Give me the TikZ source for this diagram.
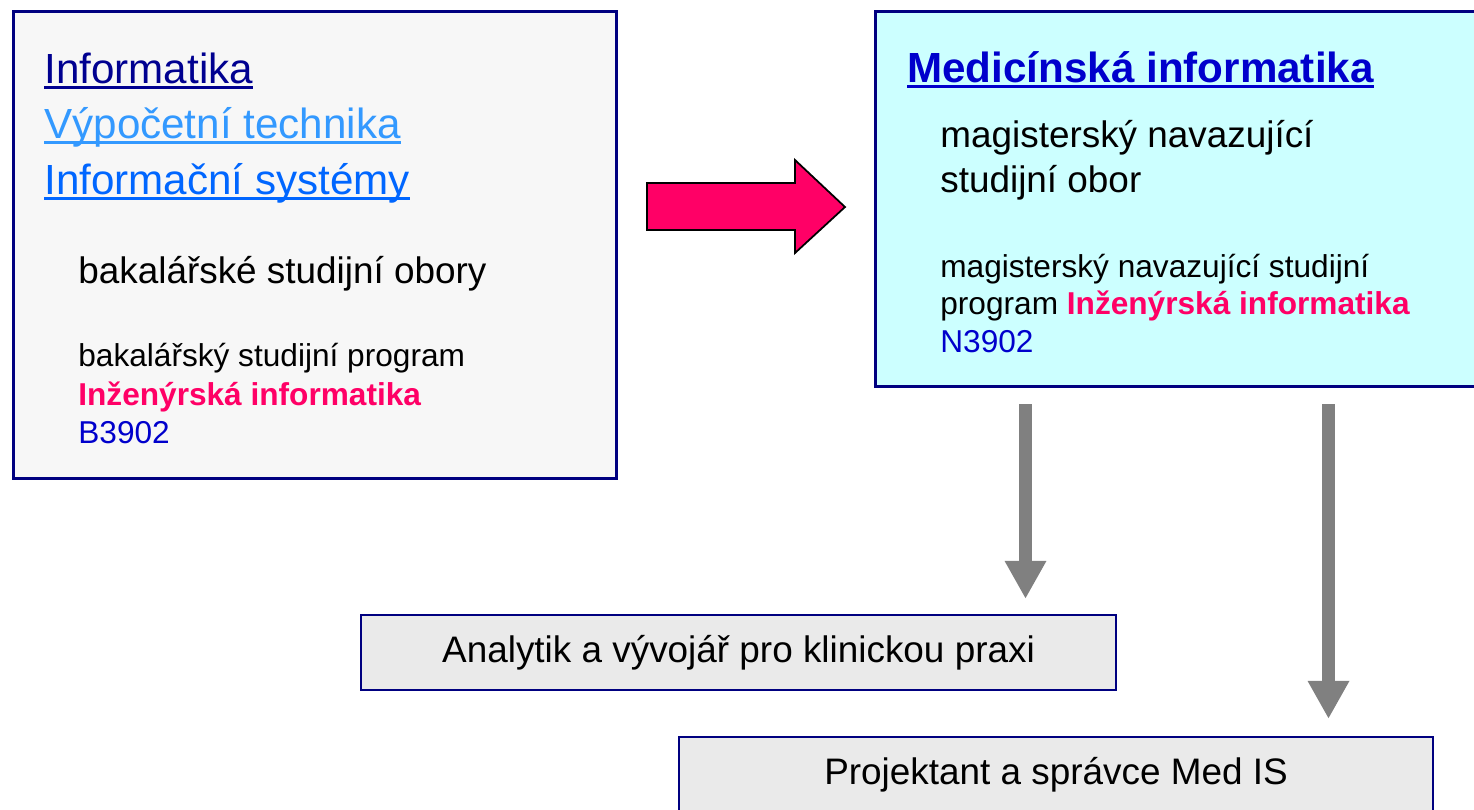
\documentclass[tikz,border=0pt]{standalone}
\usepackage{fontspec}
\setmainfont{Liberation Sans}
\usetikzlibrary{arrows.meta}

\definecolor{ramec}{HTML}{000080}
\definecolor{seda}{HTML}{F7F7F7}
\definecolor{azur}{HTML}{CCFFFF}
\definecolor{svetla}{HTML}{EAEAEA}
\definecolor{ruzova}{HTML}{FF0066}
\definecolor{tmodra}{HTML}{000090}
\definecolor{modra}{HTML}{0066FF}
\definecolor{blankyt}{HTML}{3399FF}
\definecolor{kod}{HTML}{0000CC}
\definecolor{sipka}{HTML}{808080}

\newcommand{\velky}{\fontsize{24}{29}\selectfont}
\newcommand{\stredni}{\fontsize{21}{25}\selectfont}
\newcommand{\maly}{\fontsize{18}{22}\selectfont}
\newsavebox{\linkbox}
\newcommand{\ulink}[1]{\sbox{\linkbox}{#1}\rlap{\rule[-3.4pt]{\wd\linkbox}{1.7pt}}\usebox{\linkbox}}

\tikzset{box/.style={rectangle, draw=ramec, line width=2pt, inner sep=0pt},
    pole/.style={box, line width=1.3pt, fill=svetla, minimum width=15.1cm, minimum height=1.5cm, font=\stredni},
    txt/.style={anchor=base west, inner sep=0pt},
    greyarrow/.style={draw=sipka, line width=0.26cm, -{Triangle[width=0.78cm, length=0.76cm]}},
    cervena/.style={draw=black, line width=1pt, fill=ruzova}}

\begin{document}
\begin{tikzpicture}[x=0.02cm, y=-0.02cm]
        \clip (0,0) rectangle (1474,809);
        \node[box, fill=seda, minimum width=12.06cm, minimum height=9.34cm] (bakalar) at (315,245) {};
        \node[box, fill=azur, minimum width=12.2cm, minimum height=7.5cm] (magistr) at (1180.5,199) {};
        \node[pole] (analytik) at (738.5,652.5) {Analytik a vývojář pro klinickou praxi};
        \node[pole, minimum width=15.08cm, minimum height=1.52cm] (projektant) at (1056,775) {Projektant a správce Med IS};

        % bakalarske obory
        \node[txt, font=\velky, text=tmodra] (inf) at (44,83) {\ulink{Informatika}};
        \node[txt, font=\velky, text=blankyt] (vyp) at (44,138) {\ulink{Výpočetní technika}};
        \node[txt, font=\velky, text=modra] (isy) at (44,194) {\ulink{Informační systémy}};
        \node[txt, font=\stredni] (obory) at (78,283) {bakalářské studijní obory};
        \node[txt, font=\maly] (bprog) at (78,366) {bakalářský studijní program};
        \node[txt, font=\maly\bfseries, text=ruzova] (bnazev) at (78,405) {Inženýrská informatika};
        \node[txt, font=\maly, text=kod] (bkod) at (78,443) {B3902};

        % navazujici obor
        \node[txt, font=\velky\bfseries, text=kod] (med) at (907,82) {\ulink{Medicínská informatika}};
        \node[txt, font=\stredni] (mobor1) at (940,147) {magisterský navazující};
        \node[txt, font=\stredni] (mobor2) at (940,192) {studijní obor};
        \node[txt, font=\maly] (mprog1) at (940,277) {magisterský navazující studijní};
        \node[txt, font=\maly] (mprog2) at (940,314) {program \textcolor{ruzova}{\bfseries Inženýrská informatika}};
        \node[txt, font=\maly, text=kod] (mkod) at (940,352) {N3902};

        % sipky
        \draw[cervena] (647,183) -- (795,183) -- (795,160) -- (845,207) -- (795,253) -- (795,230) -- (647,230) -- cycle;
        \coordinate (z1) at (1025.5,404);
        \coordinate (z2) at (1328.5,404);
        \draw[greyarrow, shorten >=0.3cm] (z1) -- (z1 |- analytik.north);
        \draw[greyarrow, shorten >=0.34cm] (z2) -- (z2 |- projektant.north);
    \end{tikzpicture}
\end{document}
